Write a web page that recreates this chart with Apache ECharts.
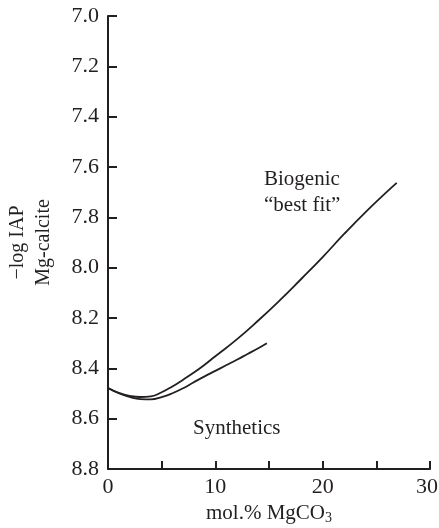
<!DOCTYPE html>
<html><head><meta charset="utf-8">
<script src="https://cdn.jsdelivr.net/npm/echarts@6/dist/echarts.min.js"></script>
<style>html,body{margin:0;padding:0;background:#fff}#c{width:439px;height:528px}</style>
</head><body><div id="c"></div>
<script>
const biogenicX = [0, 1, 2, 3, 4, 5, 6, 7, 8, 9, 10, 12, 14, 16, 18, 20, 22, 24, 26, 26.9];
const biogenicY = [8.478, 8.497, 8.509, 8.514, 8.511, 8.495, 8.472, 8.445, 8.417, 8.386, 8.352, 8.285, 8.21, 8.13, 8.045, 7.958, 7.866, 7.779, 7.698, 7.663];
const synthX = [0, 1, 2, 3, 4, 5, 6, 7, 8, 9, 10, 11, 12, 13, 14, 14.8];
const synthY = [8.478, 8.499, 8.513, 8.522, 8.523, 8.514, 8.499, 8.479, 8.455, 8.432, 8.41, 8.388, 8.366, 8.343, 8.32, 8.30];
const yTicks = [7.0, 7.2, 7.4, 7.6, 7.8, 8.0, 8.2, 8.4, 8.6, 8.8];
const xLabels = [0, 10, 20, 30];

const font = '"Liberation Serif", "DejaVu Serif", serif';
const ink = '#231f20';
const chart = echarts.init(document.getElementById('c'), null, {renderer: 'canvas'});
const zip = (xs, ys) => xs.map((x, i) => [x, ys[i]]);
chart.setOption({
  animation: false,
  grid: {left: 108, right: 9, top: 16, bottom: 59, containLabel: false, outerBoundsMode: 'none'},
  xAxis: {
    type: 'value', min: 0, max: 30, interval: 5,
    name: 'mol.% MgCO{sub|3}', nameLocation: 'middle', nameGap: 30,
    nameTextStyle: {fontFamily: font, fontSize: 21, color: ink,
      rich: {sub: {fontFamily: font, fontSize: 14, color: ink, verticalAlign: 'bottom', padding: [9, 0, 0, 0]}}},
    axisLine: {show: true, lineStyle: {color: ink, width: 2}},
    axisTick: {show: true, inside: true, length: 8, lineStyle: {color: ink, width: 2}},
    axisLabel: {fontFamily: font, fontSize: 22, color: ink, margin: 7,
      rich: {last: {fontFamily: font, fontSize: 22, color: ink, padding: [0, 6, 0, 0]}},
      formatter: v => xLabels.includes(v) ? (v === 30 ? '{last|30}' : String(v)) : ''},
    splitLine: {show: false}
  },
  yAxis: {
    type: 'value', min: 7.0, max: 8.8, interval: 0.2, inverse: true,
    name: '\u2212log IAP\nMg-calcite', nameLocation: 'middle', nameGap: 51, nameRotate: 90,
    nameTextStyle: {fontFamily: font, fontSize: 20, color: ink, lineHeight: 26},
    axisLine: {show: true, lineStyle: {color: ink, width: 2}},
    axisTick: {show: true, inside: true, length: 9, lineStyle: {color: ink, width: 2}},
    axisLabel: {fontFamily: font, fontSize: 22, color: ink, margin: 9,
      formatter: v => { const t = yTicks.find(k => Math.abs(k - v) < 1e-6); return t !== undefined ? t.toFixed(1) : ''; }},
    splitLine: {show: false}
  },
  series: [
    {type: 'line', name: 'Biogenic', data: zip(biogenicX, biogenicY), smooth: 0.5, showSymbol: false,
     lineStyle: {color: ink, width: 1.8}},
    {type: 'line', name: 'Synthetics', data: zip(synthX, synthY), smooth: 0.5, showSymbol: false,
     lineStyle: {color: ink, width: 1.8}}
  ],
  graphic: [
    {type: 'text', left: 264, top: 169, style: {text: 'Biogenic', font: '21px ' + font, fill: ink}},
    {type: 'text', left: 264, top: 195, style: {text: '\u201Cbest fit\u201D', font: '21px ' + font, fill: ink}},
    {type: 'text', left: 193, top: 418, style: {text: 'Synthetics', font: '21px ' + font, fill: ink}}
  ]
});
</script></body></html>
